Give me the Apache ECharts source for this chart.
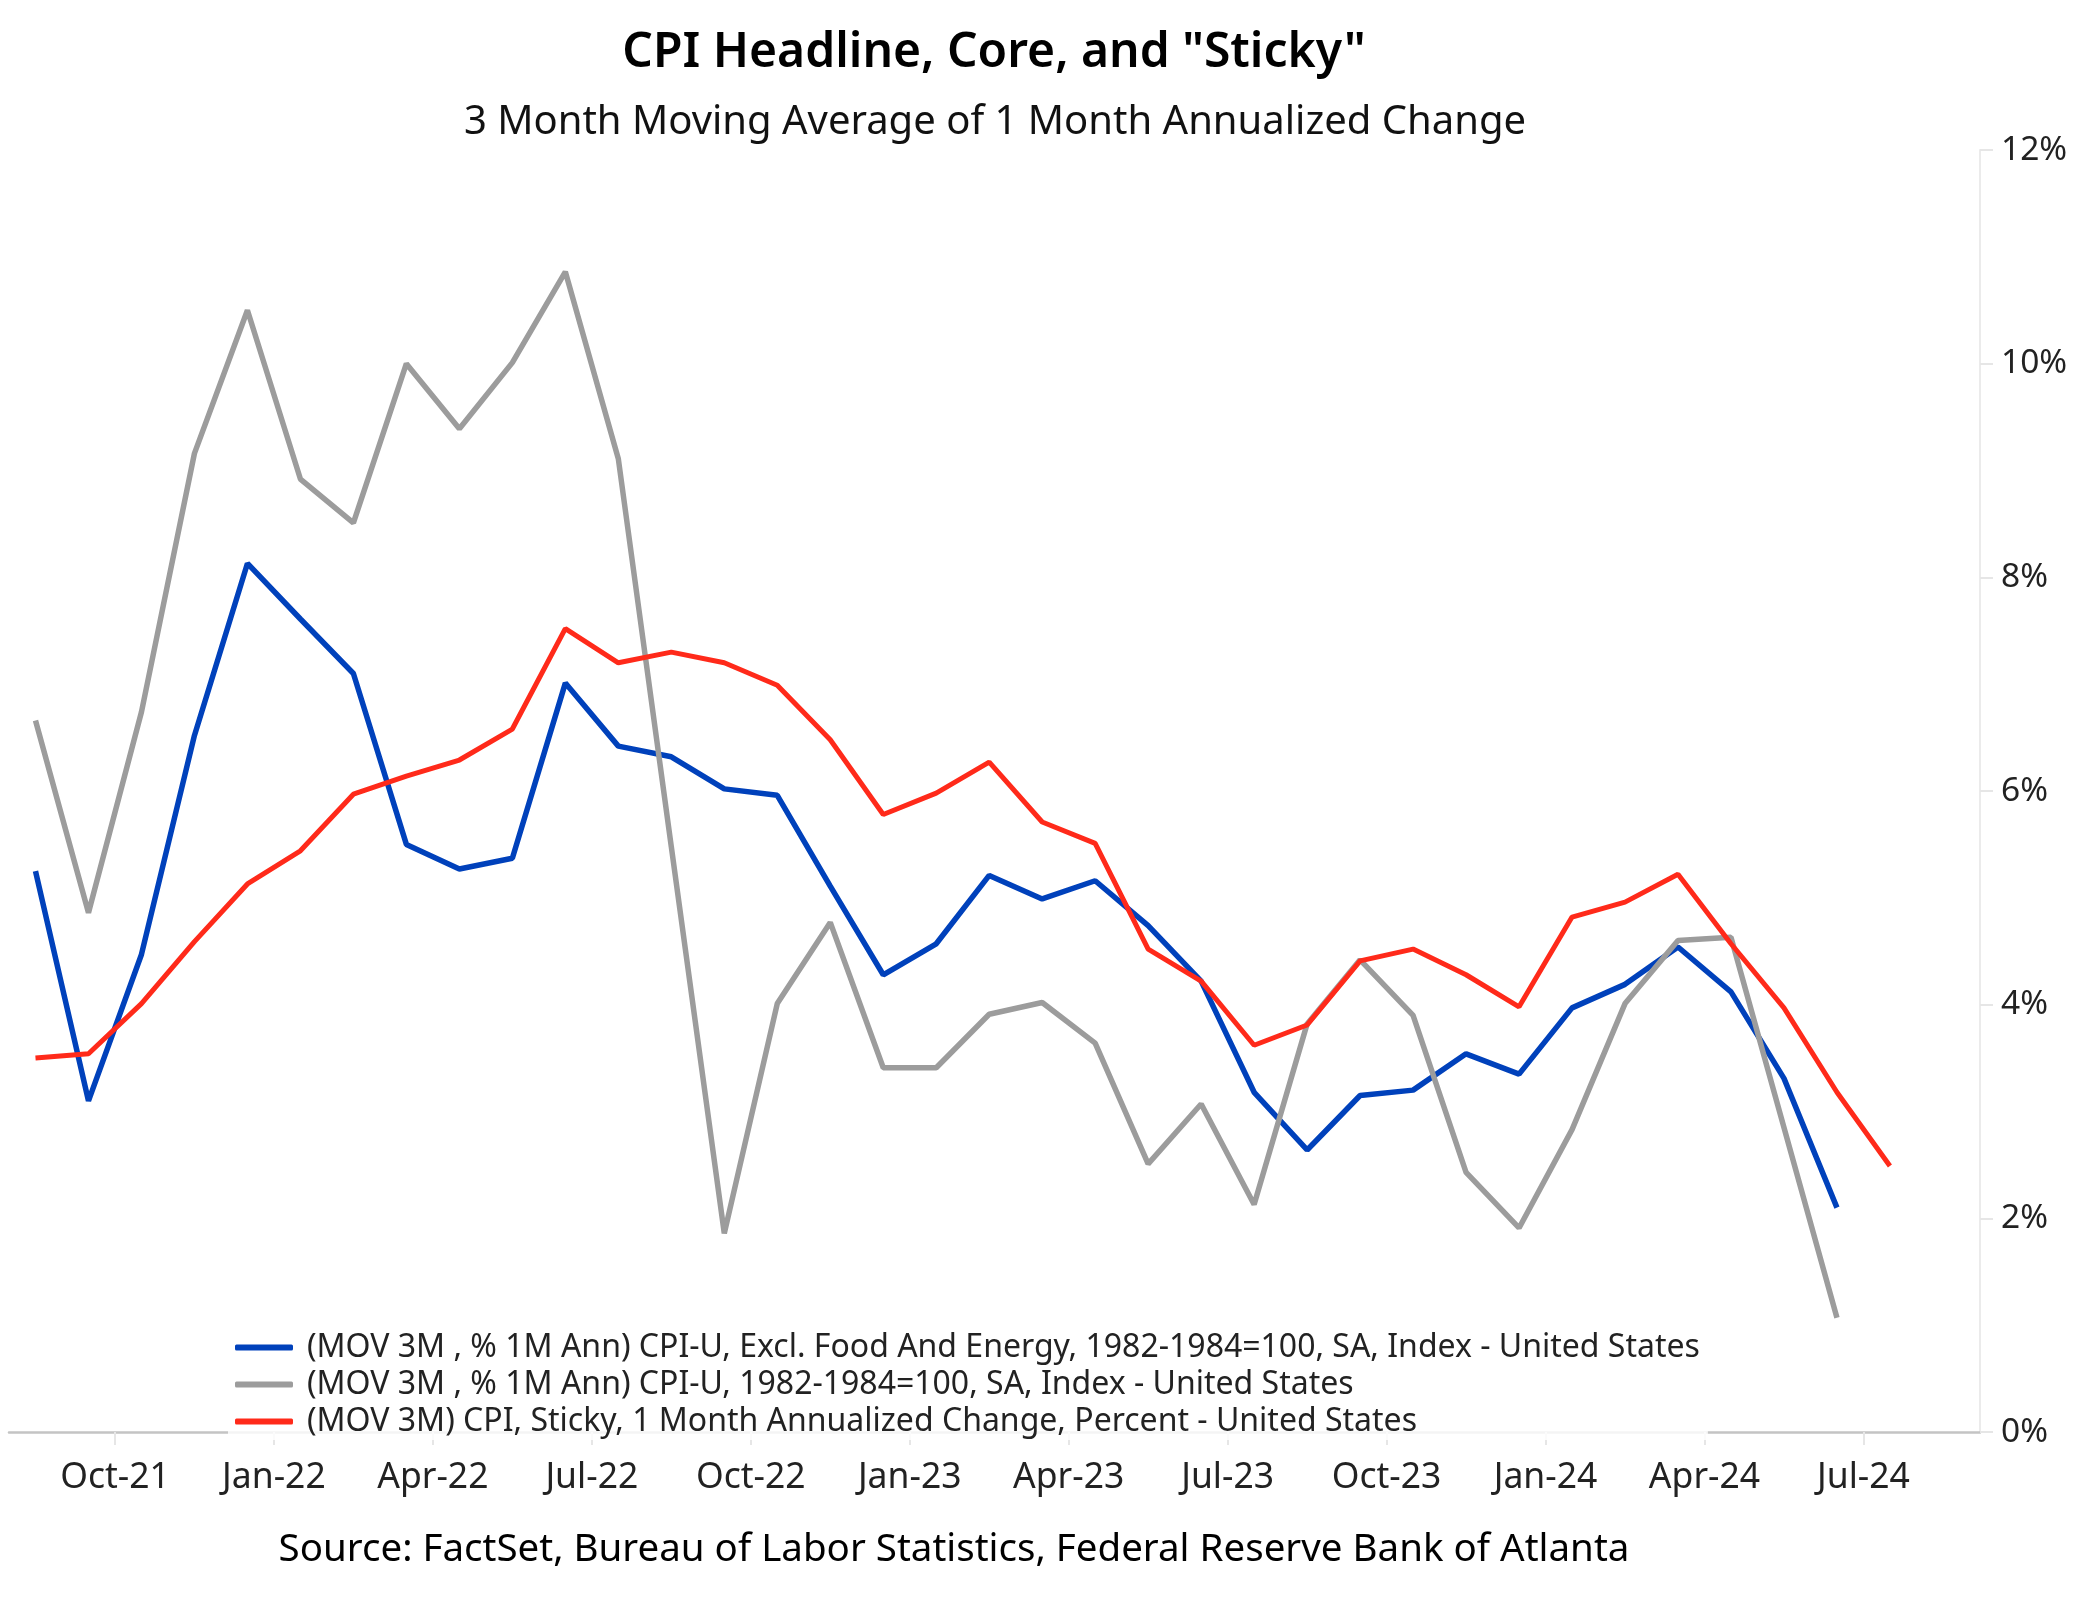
<!DOCTYPE html>
<html>
<head>
<meta charset="utf-8">
<script src="https://cdn.jsdelivr.net/npm/echarts@6/dist/echarts.min.js"></script>
<style>
html,body{margin:0;padding:0;background:#fff;}
#chart{width:2077px;height:1598px;}
</style>
</head>
<body>
<div id="chart"></div>
<script>
// Monthly observations, Aug-21 .. Jul-24
const months = ['Aug-21','Sep-21','Oct-21','Nov-21','Dec-21','Jan-22','Feb-22','Mar-22','Apr-22','May-22','Jun-22','Jul-22',
  'Aug-22','Sep-22','Oct-22','Nov-22','Dec-22','Jan-23','Feb-23','Mar-23','Apr-23','May-23','Jun-23','Jul-23',
  'Aug-23','Sep-23','Oct-23','Nov-23','Dec-23','Jan-24','Feb-24','Mar-24','Apr-24','May-24','Jun-24','Jul-24'];

const coreCPI = [5.25,3.10,4.47,6.52,8.13,7.61,7.10,5.50,5.27,5.37,7.01,6.42,
  6.32,6.02,5.96,5.11,4.28,4.57,5.21,4.99,5.16,4.74,4.22,3.18,
  2.64,3.15,3.20,3.54,3.35,3.97,4.19,4.54,4.12,3.31,2.10];

const headlineCPI = [6.66,4.86,6.74,9.16,10.50,8.92,8.51,10.00,9.39,10.01,10.86,9.11,
  5.48,1.86,4.01,4.77,3.41,3.41,3.91,4.02,3.64,2.51,3.07,2.13,
  3.82,4.42,3.90,2.43,1.91,2.83,4.01,4.60,4.63,2.85,1.07];

const stickyCPI = [3.50,3.54,4.01,4.59,5.13,5.44,5.97,6.14,6.29,6.58,7.52,7.20,
  7.30,7.20,6.99,6.48,5.78,5.98,6.27,5.71,5.51,4.52,4.22,3.62,
  3.81,4.41,4.52,4.28,3.98,4.82,4.96,5.22,4.57,3.97,3.18,2.49];

const tickLabels = ['Oct-21','Jan-22','Apr-22','Jul-22','Oct-22','Jan-23','Apr-23','Jul-23','Oct-23','Jan-24','Apr-24','Jul-24'];
const tickPositions = tickLabels.map((_, k) => 1.5 + 3 * k);

const seriesNames = [
  '(MOV 3M , % 1M Ann) CPI-U, Excl. Food And Energy, 1982-1984=100, SA, Index - United States',
  '(MOV 3M , % 1M Ann) CPI-U, 1982-1984=100, SA, Index - United States',
  '(MOV 3M) CPI, Sticky, 1 Month Annualized Change, Percent - United States'
];

const FONT = "'Noto Sans', 'Open Sans', sans-serif";
const toPairs = arr => arr.map((v, i) => [i, v]);

const chart = echarts.init(document.getElementById('chart'));
chart.setOption({
  animation: false,
  backgroundColor: '#ffffff',
  textStyle: { fontFamily: FONT },
  grid: { left: 9, right: 97, top: 150, bottom: 166, containLabel: false },
  xAxis: {
    type: 'value',
    min: -0.5,
    max: 36.7,
    splitLine: { show: false },
    axisLine: { show: true, onZero: false, lineStyle: { color: '#c4c4c4', width: 2.5 } },
    axisTick: { show: true, customValues: tickPositions, length: 13, lineStyle: { color: '#e6e6e6', width: 2 } },
    axisLabel: {
      customValues: tickPositions,
      margin: 28,
      color: '#222222',
      fontSize: 35.5,
      fontFamily: FONT,
      formatter: v => tickLabels[Math.round((v - 1.5) / 3)] || ''
    }
  },
  yAxis: {
    type: 'value',
    position: 'right',
    min: 0,
    max: 12,
    interval: 2,
    splitLine: { show: false },
    axisLine: { show: true, onZero: false, lineStyle: { color: '#ebebeb', width: 2 } },
    axisTick: { show: true, length: 13, lineStyle: { color: '#e6e6e6', width: 2 } },
    axisLabel: { margin: 21, color: '#222222', fontSize: 33.5, fontFamily: FONT, formatter: '{value}%' }
  },
  legend: {
    orient: 'vertical',
    left: 228,
    top: 1325,
    padding: [4, 8, 0, 7],
    itemGap: 0,
    itemWidth: 58,
    itemHeight: 6,
    icon: 'roundRect',
    backgroundColor: 'rgba(255,255,255,0.82)',
    textStyle: { fontSize: 32, color: '#222222', lineHeight: 37, fontFamily: FONT, padding: [0, 0, 0, 9] },
    data: seriesNames
  },
  graphic: [
    { type: 'text', x: 994, y: 53, style: { text: 'CPI Headline, Core, and "Sticky"', font: "600 48px 'Noto Sans'", fill: '#000', textAlign: 'center', textVerticalAlign: 'middle' } },
    { type: 'text', x: 995, y: 123, style: { text: '3 Month Moving Average of 1 Month Annualized Change', font: "400 40px 'Noto Sans'", fill: '#111', textAlign: 'center', textVerticalAlign: 'middle' } },
    { type: 'text', x: 954, y: 1550, style: { text: 'Source: FactSet, Bureau of Labor Statistics, Federal Reserve Bank of Atlanta', font: "400 38.5px 'Noto Sans'", fill: '#000', textAlign: 'center', textVerticalAlign: 'middle' } }
  ],
  series: [
    { name: seriesNames[0], type: 'line', data: toPairs(coreCPI), showSymbol: false, symbol: 'none',
      lineStyle: { color: '#0041BB', width: 5.5 }, itemStyle: { color: '#0041BB' } },
    { name: seriesNames[1], type: 'line', data: toPairs(headlineCPI), showSymbol: false, symbol: 'none',
      lineStyle: { color: '#9C9C9C', width: 5.5 }, itemStyle: { color: '#9C9C9C' } },
    { name: seriesNames[2], type: 'line', data: toPairs(stickyCPI), showSymbol: false, symbol: 'none',
      lineStyle: { color: '#FF2A1A', width: 5 }, itemStyle: { color: '#FF2A1A' } }
  ]
});
</script>
</body>
</html>
